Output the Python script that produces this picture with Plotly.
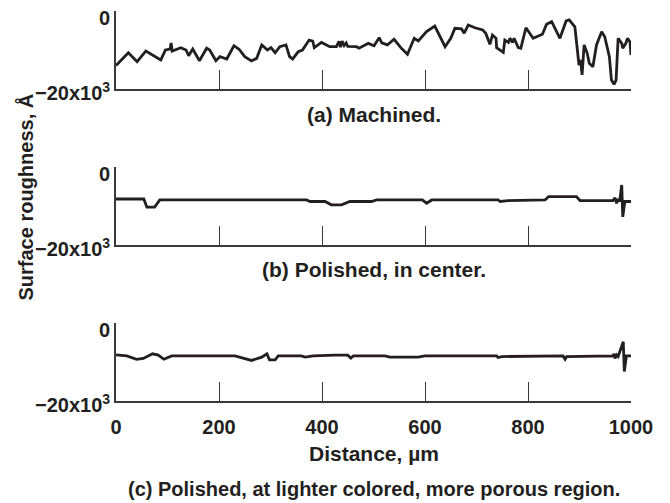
import plotly.graph_objects as go

# ---------------- data ----------------
a_x = [0, 24, 41, 58, 87, 96, 105, 107, 109, 126,
       136, 141, 149, 162, 176, 182, 194, 202, 215, 229,
       239, 250, 263, 273, 283, 294, 301, 309, 318, 330,
       337, 343, 354, 362, 375, 382, 385, 399, 415, 428,
       433, 436, 439, 443, 447, 450, 467, 472, 490, 501,
       511, 516, 527, 540, 553, 566, 579, 587, 603, 619,
       639, 650, 658, 671, 676, 684, 697, 712, 718, 726,
       731, 738, 739, 752, 755, 762, 765, 770, 773, 781,
       786, 796, 810, 828, 836, 846, 862, 874, 880, 891,
       899, 902, 905, 909, 915, 919, 926, 933, 943, 949,
       958, 962, 967, 971, 975, 982, 984, 990, 993, 998,
       1000]
a_y = [-14000, -10700, -13000, -10250, -12550, -10000, -9750, -8200, -10250, -9400,
       -10000, -11450, -9750, -12750, -9550, -10000, -12750, -11700, -12300, -8900,
       -9800, -11700, -12800, -12150, -8700, -10000, -9400, -10700, -9150, -8700,
       -11700, -12300, -10450, -10000, -7450, -7700, -9400, -8050, -9150, -9150,
       -7800, -9250, -7700, -8850, -8200, -9100, -9150, -9550, -8300, -8900,
       -6850, -8150, -8700, -7250, -9400, -11100, -7000, -7700, -5300, -3850,
       -9150, -7000, -4450, -4600, -5700, -3600, -4300, -4850, -5700, -8550,
       -6150, -7000, -9400, -10600, -7450, -8050, -7000, -8050, -7000, -9400,
       -9550, -4300, -7000, -5950, -3400, -2750, -7000, -2550, -2300, -4050,
       -13850, -12550, -16400, -8700, -10850, -13400, -14300, -8700, -5300, -6600,
       -11700, -17700, -18800, -17700, -7000, -8300, -9550, -8300, -7000, -7850,
       -11300]

b_x = [0, 54, 60, 75, 85,
       370, 377, 406, 418, 438, 454,
       496, 506,
       595, 603, 613,
       742, 746, 761,
       833, 840, 894, 901,
       965, 969, 972, 975, 978,
       982, 984, 988, 1000]
b_y = [-8200, -8200, -10300, -10300, -8450,
       -8450, -8850, -8850, -9700, -9700, -8850,
       -8850, -8450,
       -8450, -9300, -8450,
       -8450, -8850, -8600,
       -8450, -7600, -7600, -8600,
       -8600, -7900, -9300, -8200, -8850,
       -4600, -12800, -8850, -8850]

c_x = [0, 21, 40, 53, 71, 82, 93, 108,
       231, 241, 263, 283, 293, 298, 309, 315,
       360, 367, 383, 425,
       450, 456, 461,
       522, 532, 587, 600,
       739, 742, 749,
       839, 843,
       868, 872, 875,
       965, 967, 969, 972, 975,
       985, 987, 991, 1000]
c_y = [-8150, -8450, -9300, -9100, -7900, -8250, -9300, -8450,
       -8450, -8750, -9600, -8750, -7900, -9450, -9450, -8450,
       -8450, -8750, -8450, -8250,
       -8250, -9000, -8450,
       -8450, -8750, -8750, -8450,
       -8450, -8850, -8600,
       -8450, -8600,
       -8450, -9300, -8600,
       -8450, -7900, -9100, -8200, -8600,
       -4800, -12450, -8450, -8450]

x_tick_vals = [0, 200, 400, 600, 800, 1000]
y_tick_vals = [0, -20000]
y_tick_text = ["0", "\u221220x10<sup>3</sup>"]
panel_titles = ["(a) Machined.", "(b) Polished, in center.",
                "(c) Polished, at lighter colored, more porous region."]
x_title = "Distance, \u00b5m"
y_title = "Surface roughness, \u00c5"

# ---------------- style ----------------
INK = "#231f20"
AX = "#3a3a3a"
FONT = "Liberation Sans, Arial, sans-serif"
FS = 20
FS_T = 21

fig = go.Figure()
series = [(a_x, a_y), (b_x, b_y), (c_x, c_y)]
for i, (xs, ys) in enumerate(series):
    suf = "" if i == 0 else str(i + 1)
    fig.add_trace(go.Scatter(x=xs, y=ys, mode="lines",
                             line=dict(color=INK, width=2.8),
                             xaxis="x" + suf, yaxis="y" + suf,
                             showlegend=False, hoverinfo="skip"))

domains = [[0.8, 1.0], [0.4, 0.6], [0.0, 0.2]]
layout = dict(
    width=670, height=503,
    margin=dict(l=116, r=39, t=11, b=102),
    paper_bgcolor="white", plot_bgcolor="white",
    font=dict(family=FONT, size=FS, color=INK),
    showlegend=False,
)
for i in range(3):
    suf = "" if i == 0 else str(i + 1)
    layout["xaxis" + suf] = dict(
        domain=[0, 1], anchor="y" + suf, range=[0, 1000],
        showgrid=False, zeroline=False, showline=True,
        linecolor=AX, linewidth=1.6,
        ticks="inside", ticklen=19, tickwidth=1.2, tickcolor=AX,
        tickvals=x_tick_vals, showticklabels=(i == 2),
        tickfont=dict(family=FONT, size=FS, color=INK, weight="bold"),
        ticklabelstandoff=7,
    )
    layout["yaxis" + suf] = dict(
        domain=domains[i], anchor="x" + suf, range=[-20000, 0],
        showgrid=False, zeroline=False, showline=True,
        linecolor=AX, linewidth=1.6,
        ticks="inside", ticklen=19, tickwidth=1.2, tickcolor=AX,
        tickvals=y_tick_vals, showticklabels=False,
    )
fig.update_layout(**layout)

ann = []
for i in range(3):
    suf = "" if i == 0 else str(i + 1)
    for v, t, sh in zip(y_tick_vals, y_tick_text, [-7, -2]):
        ann.append(dict(xref="paper", yref="y" + suf, x=0, y=v, text="<b>" + t + "</b>",
                        showarrow=False, xanchor="right", yanchor="middle",
                        xshift=-4, yshift=sh, font=dict(size=FS, color=INK, family=FONT)))

title_y = [0.735, 0.338, -0.226]
for t, yy in zip(panel_titles, title_y):
    ann.append(dict(xref="paper", yref="paper", x=0.5, y=yy, text="<b>" + t + "</b>",
                    showarrow=False, xanchor="center", yanchor="middle",
                    font=dict(size=FS_T if len(t) < 30 else FS, color=INK, family=FONT)))
ann.append(dict(xref="paper", yref="paper", x=0.5, y=-0.134, text="<b>" + x_title + "</b>",
                showarrow=False, xanchor="center", yanchor="middle",
                font=dict(size=FS_T, color=INK, family=FONT)))
ann.append(dict(xref="paper", yref="paper", x=-0.175, y=0.524, text="<b>" + y_title + "</b>",
                showarrow=False, xanchor="center", yanchor="middle", textangle=-90,
                font=dict(size=FS, color=INK, family=FONT)))
fig.update_layout(annotations=ann)

fig.write_html("out.html")
